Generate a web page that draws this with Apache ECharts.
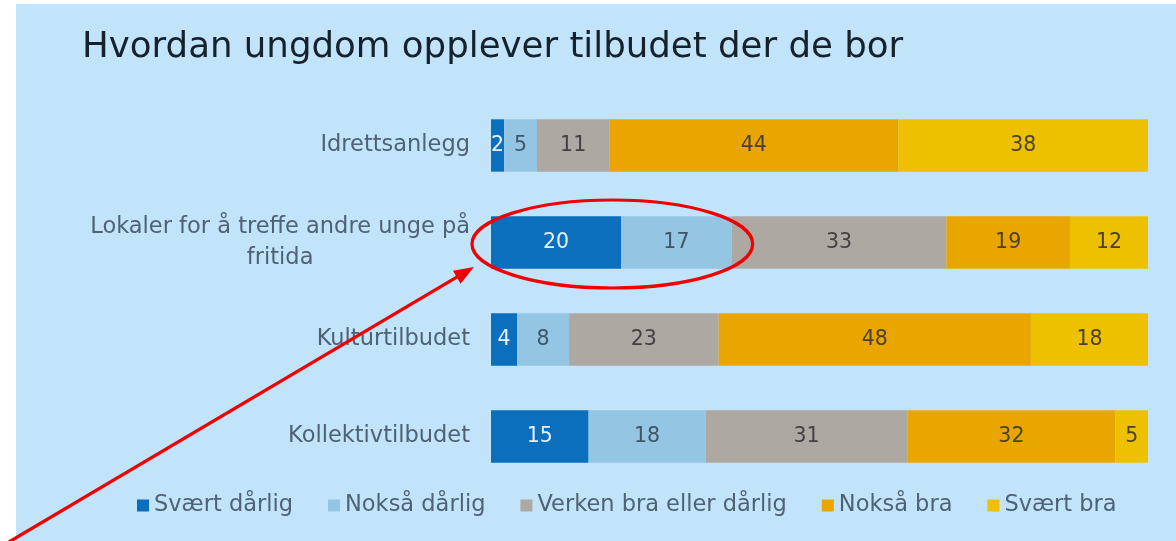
<!DOCTYPE html>
<html>
<head>
<meta charset="utf-8">
<script src="https://cdn.jsdelivr.net/npm/echarts@6/dist/echarts.min.js"></script>
<style>
  html, body { margin: 0; padding: 0; background: #ffffff; }
  #chart { width: 1176px; height: 541px; }
</style>
</head>
<body>
<div id="chart"></div>
<script>
// Survey answers (percent) per facility
const categories = [
  'Idrettsanlegg',
  'Lokaler for å treffe andre unge på fritida',
  'Kulturtilbudet',
  'Kollektivtilbudet'
];
const seriesNames = ['Svært dårlig', 'Nokså dårlig', 'Verken bra eller dårlig', 'Nokså bra', 'Svært bra'];
const sveartDarlig = [2, 20, 4, 15];
const noksaDarlig  = [5, 17, 8, 18];
const verken       = [11, 33, 23, 31];
const noksaBra     = [44, 19, 48, 32];
const svaertBra    = [38, 12, 18, 5];

const values = [sveartDarlig, noksaDarlig, verken, noksaBra, svaertBra];
const colors = ['#0b6fbd', '#94c5e3', '#aea8a3', '#e9a600', '#eec100'];
const labelColors = ['#e8f1fa', '#3f5668', '#424242', '#4b4128', '#4b4128'];

// 100 % stacked: each row is scaled by its own total
const totals = categories.map((_, i) => values.reduce((s, arr) => s + arr[i], 0));

const FONT = '"DejaVu Sans", "Noto Sans", sans-serif';
const TEXT_COLOR = '#4f6273';

const series = seriesNames.map((name, k) => ({
  name,
  type: 'bar',
  stack: 'all',
  barWidth: '54%',
  itemStyle: { color: colors[k] },
  label: {
    show: true,
    position: 'inside',
    fontFamily: FONT,
    fontSize: 20.5,
    color: labelColors[k],
    formatter: p => String(values[k][p.dataIndex])
  },
  data: values[k].map((v, i) => v / totals[i] * 100)
}));

const chart = echarts.init(document.getElementById('chart'), null, { renderer: 'canvas' });

const option = {
  backgroundColor: '#ffffff',
  animation: false,
  title: {
    text: 'Hvordan ungdom opplever tilbudet der de bor',
    left: 77,
    top: 25,
    textStyle: { fontFamily: FONT, fontSize: 35.6, fontWeight: 'normal', color: '#16212b' }
  },
  legend: {
    data: seriesNames,
    left: 137,
    top: 494,
    padding: 0,
    icon: 'rect',
    itemWidth: 12,
    itemHeight: 12,
    itemGap: 35,
    textStyle: { fontFamily: FONT, fontSize: 22.5, color: TEXT_COLOR }
  },
  grid: { left: 491, right: 28, top: 97, bottom: 56, containLabel: false },
  xAxis: {
    type: 'value', min: 0, max: 100,
    show: false
  },
  yAxis: {
    type: 'category',
    inverse: true,
    data: categories,
    axisLine: { show: false },
    axisTick: { show: false },
    axisLabel: {
      margin: 21,
      fontFamily: FONT,
      fontSize: 22.5,
      color: TEXT_COLOR,
      formatter: v => {
        if (v.length > 25) {
          const cut = v.lastIndexOf(' ', 34);
          return '{c|' + v.slice(0, cut) + '}\n{c|' + v.slice(cut + 1) + '}';
        }
        return v;
      },
      rich: {
        c: { align: 'center', fontFamily: FONT, fontSize: 22.5, color: TEXT_COLOR, lineHeight: 31 }
      }
    }
  },
  graphic: [{
    type: 'rect',
    id: 'panel',
    z: -10,
    silent: true,
    shape: { x: 16, y: 4, width: 1176 - 16, height: 541 - 4 },
    style: { fill: '#c1e4fb' }
  }],
  series
};

chart.setOption(option);

// Red highlight around the first two answers of the second row, with a pointer arrow
const row = 1;
const x0 = chart.convertToPixel({ gridIndex: 0 }, [0, row]);
const x1 = chart.convertToPixel({ gridIndex: 0 }, [(sveartDarlig[row] + noksaDarlig[row]) / totals[row] * 100, row]);
const cx = (x0[0] + x1[0]) / 2 + 1;
const cy = x0[1] + 1.5;
const rx = (x1[0] - x0[0]) / 2 + 20;
const ry = 44;

const tip = [cx - rx + 2, cy + 23];
const start = [9, 542];
const ang = Math.atan2(tip[1] - start[1], tip[0] - start[0]);
const headLen = 20, headHalf = 7.5;
const base = [tip[0] - headLen * Math.cos(ang), tip[1] - headLen * Math.sin(ang)];
const nx = -Math.sin(ang), ny = Math.cos(ang);

chart.setOption({
  graphic: [
    {
      type: 'ellipse',
      id: 'ring',
      z: 100,
      silent: true,
      shape: { cx, cy, rx, ry },
      style: { fill: 'none', stroke: '#f00000', lineWidth: 3.2 }
    },
    {
      type: 'line',
      id: 'shaft',
      z: 100,
      silent: true,
      shape: { x1: start[0], y1: start[1], x2: base[0] + 2 * Math.cos(ang), y2: base[1] + 2 * Math.sin(ang) },
      style: { stroke: '#f00000', lineWidth: 3.2 }
    },
    {
      type: 'polygon',
      id: 'head',
      z: 100,
      silent: true,
      shape: { points: [tip, [base[0] + nx * headHalf, base[1] + ny * headHalf], [base[0] - nx * headHalf, base[1] - ny * headHalf]] },
      style: { fill: '#f00000' }
    }
  ]
});
</script>
</body>
</html>
